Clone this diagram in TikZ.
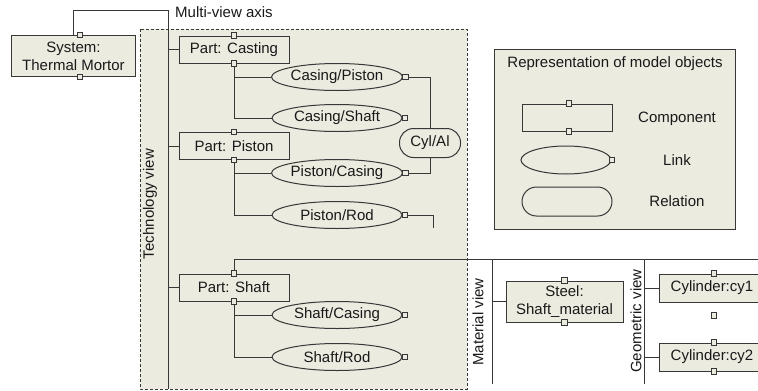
\documentclass[tikz,border=0pt]{standalone}
\usepackage{fontspec}
\setmainfont{Liberation Sans}
\usetikzlibrary{shapes.geometric}
\definecolor{beige}{RGB}{235,235,224}
\definecolor{ln}{RGB}{55,55,55}
\definecolor{tx}{RGB}{25,25,25}
\begin{document}
\begin{tikzpicture}[x=1pt,y=-1pt,
  base/.style={draw=ln, line width=1pt, fill=beige, inner sep=0pt, text=tx, font=\fontsize{15}{18}\selectfont},
  compbox/.style={base, rectangle, minimum width=110pt, minimum height=27pt},
  linkell/.style={base, ellipse, minimum width=130pt, minimum height=27pt},
  relbox/.style={base, rectangle, rounded corners=14pt, minimum width=61pt, minimum height=29pt},
  port/.style={draw=ln, line width=0.8pt, fill=beige, minimum size=5.5pt, inner sep=0pt},
  conn/.style={draw=ln, line width=1pt},
  lbl/.style={font=\fontsize{15}{18}\selectfont, text=tx, inner sep=0pt},
  viewbox/.style={draw=ln, line width=0.9pt, fill=beige, dash pattern=on 3pt off 2pt}
]
\useasboundingbox (0,0) rectangle (758,391);
\fill[white] (0,0) rectangle (758,391);

% technology view area
\draw[viewbox] (140,29) rectangle (467,389);
\node[lbl, rotate=90] (tv) at (150,204) {Technology view};

% system
\node[base, minimum width=124pt, minimum height=41pt, align=center] (sys) at (73.5,56) {System:\\Thermal Mortor};
\node[port] (sysT) at ([xshift=6.5pt]sys.north) {};
\node[port] (sysB) at ([xshift=6.5pt]sys.south) {};

% multi-view axis
\coordinate (axT) at (168,10);
\coordinate (ax) at (168,389);
\draw[conn] (sys.north) |- (axT) -- (ax);
\node[lbl, anchor=west] (mva) at (175,12) {Multi-view axis};

% Part: Casting
\node[compbox] (ptC) at (234,49.5) {Part: Casting};
\node[port] (ptCT) at (ptC.north) {};
\node[port] (ptCB) at (ptC.south) {};
\node[linkell] (lCP) at (337,77) {Casing/Piston};
\node[linkell] (lCS) at (337,118) {Casing/Shaft};
\node[port] (lCPp) at ([xshift=2.5pt]lCP.east) {};
\node[port] (lCSp) at ([xshift=2.5pt]lCS.east) {};
\draw[conn] (ptCB.south) |- (lCP.west);
\draw[conn] (ptCB.south) |- (lCS.west);

% Part: Piston
\node[compbox] (ptP) at (234,146) {Part: Piston};
\node[port] (ptPT) at (ptP.north) {};
\node[port] (ptPB) at (ptP.south) {};
\node[linkell] (lPC) at (337,173) {Piston/Casing};
\node[linkell] (lPR) at (337,215) {Piston/Rod};
\node[port] (lPCp) at ([xshift=2.5pt]lPC.east) {};
\node[port] (lPRp) at ([xshift=2.5pt]lPR.east) {};
\draw[conn] (ptPB.south) |- (lPC.west);
\draw[conn] (ptPB.south) |- (lPR.west);

% relation
\node[relbox] (cyl) at (430,143) {Cyl/Al};
\draw[conn] (lCPp.east) -| (cyl.north);
\draw[conn] (cyl.south) |- (lPCp.east);
\coordinate (prEnd) at (433,228);
\draw[conn] (lPRp.east) -| (prEnd);

% Part: Shaft
\node[compbox] (ptS) at (234,287.5) {Part: Shaft};
\node[port] (ptST) at (ptS.north) {};
\node[port] (ptSB) at (ptS.south) {};
\node[linkell] (lSC) at (337,315) {Shaft/Casing};
\node[linkell] (lSR) at (337,357) {Shaft/Rod};
\node[port] (lSCp) at ([xshift=2.5pt]lSC.east) {};
\node[port] (lSRp) at ([xshift=2.5pt]lSR.east) {};
\draw[conn] (ptSB.south) |- (lSC.west);
\draw[conn] (ptSB.south) |- (lSR.west);
\coordinate (topR) at (758,259);
\draw[conn] (ptST.north) |- (topR);

% ticks on the axis
\draw[conn] (ptC.west) -- (ptC.west -| ax);
\draw[conn] (ptP.west) -- (ptP.west -| ax);
\draw[conn] (ptS.west) -- (ptS.west -| ax);

% material view
\coordinate (mvT) at (492,259);
\coordinate (mvB) at (492,384);
\draw[conn] (mvT) -- (mvB);
\node[lbl, rotate=90] (mv) at (478,322) {Material view};
\node[base, minimum width=117pt, minimum height=41pt, align=center] (steel) at (564.5,301.5) {Steel:\\Shaft\_material};
\node[port] (steelT) at (steel.north) {};
\node[port] (steelB) at (steel.south) {};
\draw[conn] (steel.west) -- (steel.west -| mvT);

% geometric view
\coordinate (gvT) at (644,259);
\coordinate (gvB) at (644,384);
\draw[conn] (gvT) -- (gvB);
\node[lbl, rotate=90] (gv) at (636,321) {Geometric view};
\node[base, minimum width=106pt, minimum height=28pt] (cy1) at (712,288) {Cylinder:cy1};
\node[base, minimum width=106pt, minimum height=28pt] (cy2) at (712,357) {Cylinder:cy2};
\node[port] (cy1T) at ([xshift=2pt]cy1.north) {};
\node[port] (cy1B) at ([xshift=2pt,yshift=-13pt]cy1.south) {};
\node[port] (cy2T) at ([xshift=2pt]cy2.north) {};
\node[port] (cy2B) at ([xshift=2pt]cy2.south) {};
\draw[conn] (cy1.west) -- (cy1.west -| gvT);
\draw[conn] (cy2.west) -- (cy2.west -| gvT);

% legend
\node[base, minimum width=241pt, minimum height=180pt] (leg) at (614.5,139) {};
\node[lbl] (legT) at (615,64) {Representation of model objects};
\node[base, minimum width=90pt, minimum height=27pt] (lgC) at (567,117.5) {};
\node[port] (lgCT) at ([xshift=2pt]lgC.north) {};
\node[port] (lgCB) at ([xshift=2pt]lgC.south) {};
\node[lbl] (lgCt) at (677,119) {Component};
\node[base, ellipse, minimum width=90pt, minimum height=28pt] (lgL) at (566,160) {};
\node[port] (lgLp) at ([xshift=0.5pt]lgL.east) {};
\node[lbl] (lgLt) at (677,160) {Link};
\node[base, rounded corners=14.5pt, minimum width=90pt, minimum height=29pt] (lgR) at (567,201.5) {};
\node[lbl] (lgRt) at (677,201) {Relation};
\end{tikzpicture}
\end{document}
